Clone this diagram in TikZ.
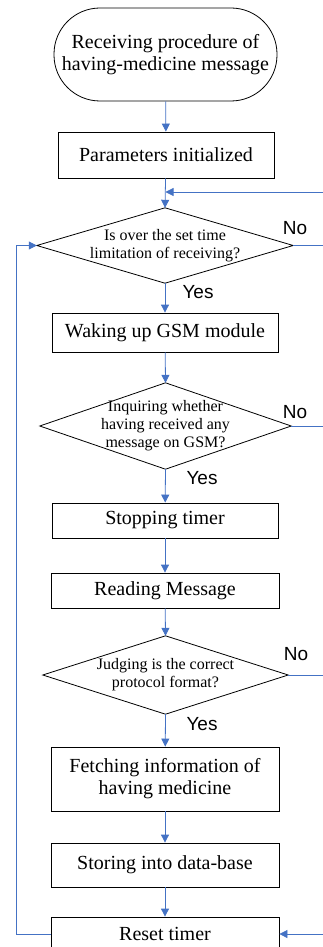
\documentclass[tikz,border=0pt]{standalone}
\usepackage{fontspec}
\setmainfont{Liberation Serif}
\newfontfamily\yesnofont{Liberation Sans}
\usetikzlibrary{arrows.meta}
\definecolor{flowblue}{RGB}{68,114,196}

\begin{document}
\begin{tikzpicture}[x=1pt, y=-1pt,
  box/.style={draw, line width=0.8pt, minimum width=228pt, align=center, inner sep=0pt, font=\fontsize{20}{22}\selectfont},
  test/.style={align=center, inner sep=0pt, font=\fontsize{16}{18}\selectfont},
  flow/.style={draw=flowblue, line width=0.8pt, -{Triangle[length=8pt,width=8pt]}},
  wire/.style={draw=flowblue, line width=0.8pt},
  yn/.style={font=\yesnofont\fontsize{19}{19}\selectfont}]

\path[use as bounding box, clip] (0,0) rectangle (323,947);

\node[box, rounded corners=46pt, minimum width=223pt, minimum height=93pt] (start) at (165.5, 54.5) {Receiving procedure of\\having-medicine message};
\node[box, minimum width=216pt, minimum height=46pt] (init) at (166, 155) {Parameters initialized};

\node[test, minimum width=256pt, minimum height=75pt] (over) at (165, 245.5) {Is over the set time\\limitation of receiving?};
\draw[line width=0.8pt] (over.north) -- (over.east) -- (over.south) -- (over.west) -- cycle;

\node[box, minimum width=226pt, minimum height=39pt] (wake) at (165, 332.5) {Waking up GSM module};

\node[test, minimum width=251pt, minimum height=86pt] (inquire) at (165.5, 426) {Inquiring whether\\having received any\\message on GSM?};
\draw[line width=0.8pt] (inquire.north) -- (inquire.east) -- (inquire.south) -- (inquire.west) -- cycle;

\node[box, minimum width=226pt, minimum height=35pt] (stop) at (165, 520.5) {Stopping timer};
\node[box, minimum height=35pt] (read) at (165, 590.5) {Reading Message};

\node[test, minimum width=245pt, minimum height=78pt] (judge) at (165.5, 675) {Judging is the correct\\protocol format?};
\draw[line width=0.8pt] (judge.north) -- (judge.east) -- (judge.south) -- (judge.west) -- cycle;

\node[box, minimum height=64pt] (fetch) at (165, 779) {Fetching information of\\having medicine};
\node[box, minimum height=44pt] (store) at (165, 865) {Storing into data-base};
\node[box, minimum height=34pt] (reset) at (165, 934) {Reset timer};

\node[yn] (yes1) at (198, 292) {Yes};
\node[yn] (yes2) at (202, 478) {Yes};
\node[yn] (yes3) at (202, 724) {Yes};
\node[yn] (no1) at (295, 228) {No};
\node[yn] (no2) at (295, 412) {No};
\node[yn] (no3) at (296, 654) {No};

\coordinate (merge) at (165.5, 192);
\coordinate (back) at (330, 192);
\coordinate (out1) at (330, 245.5);
\coordinate (out2) at (330, 426);
\coordinate (out3) at (330, 675);
\coordinate (in4) at (330, 934);
\coordinate (loopb) at (16, 934);
\coordinate (loopt) at (16, 245.5);

\draw[flow] (start) -- (init);
\draw[flow] (init) -- (over.north);
\draw[flow] (back) -- (merge);
\draw[flow] (over.south) -- (wake);
\draw[wire] (over.east) -- (out1);
\draw[flow] (wake) -- (inquire.north);
\draw[flow] (inquire.south) -- (stop);
\draw[wire] (inquire.east) -- (out2);
\draw[flow] (stop) -- (read);
\draw[flow] (read) -- (judge.north);
\draw[flow] (judge.south) -- (fetch);
\draw[wire] (judge.east) -- (out3);
\draw[flow] (fetch) -- (store);
\draw[flow] (store) -- (reset);
\draw[flow] (reset.west) -- (loopb) -- (loopt) -- (over.west);
\draw[flow] (in4) -- (reset.east);

\end{tikzpicture}
\end{document}
